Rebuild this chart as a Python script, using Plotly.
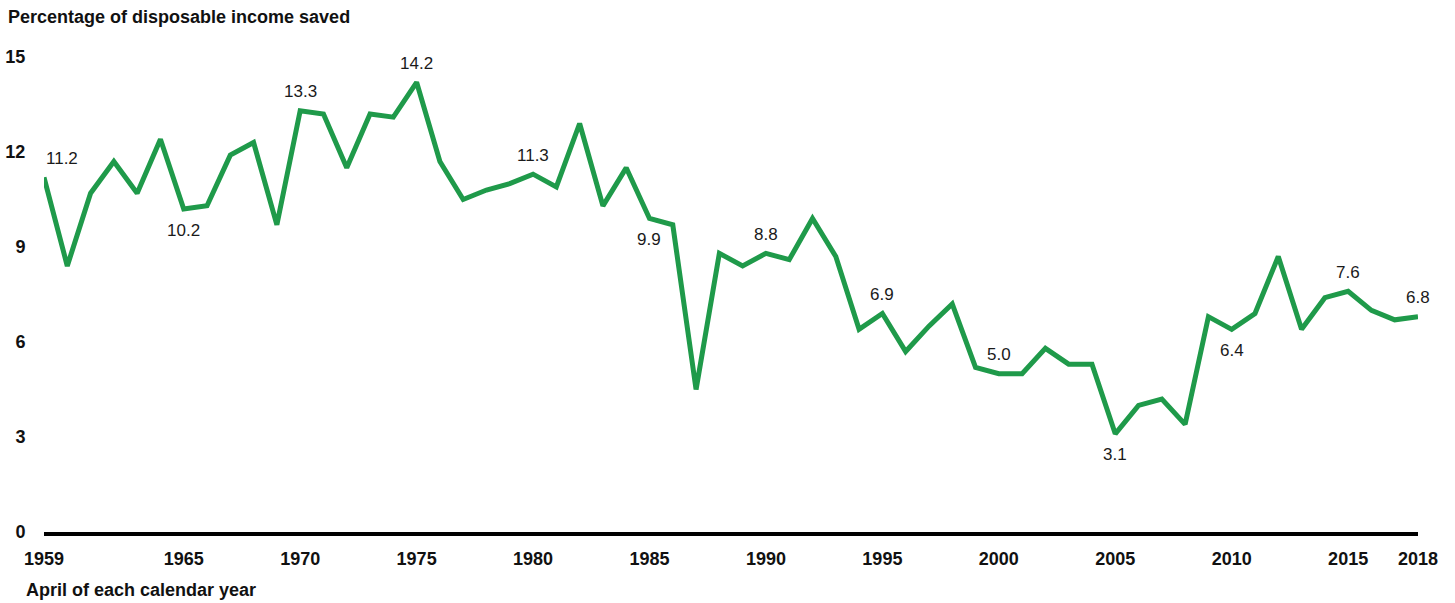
import plotly.graph_objects as go

# Personal saving rate, April of each year
years = list(range(1959, 2019))
saving_rate = [
    11.2, 8.4, 10.7, 11.7, 10.7, 12.4, 10.2, 10.3, 11.9, 12.3,   # 1959-1968
    9.7, 13.3, 13.2, 11.5, 13.2, 13.1, 14.2, 11.7, 10.5, 10.8,   # 1969-1978
    11.0, 11.3, 10.9, 12.9, 10.3, 11.5, 9.9, 9.7, 4.5, 8.8,      # 1979-1988
    8.4, 8.8, 8.6, 9.9, 8.7, 6.4, 6.9, 5.7, 6.5, 7.2,            # 1989-1998
    5.2, 5.0, 5.0, 5.8, 5.3, 5.3, 3.1, 4.0, 4.2, 3.4,            # 1999-2008
    6.8, 6.4, 6.9, 8.7, 6.4, 7.4, 7.6, 7.0, 6.7, 6.8,            # 2009-2018
]

x_tick_years = [1959, 1965, 1970, 1975, 1980, 1985, 1990, 1995, 2000, 2005, 2010, 2015, 2018]
y_tick_values = [0, 3, 6, 9, 12, 15]

# Years whose value is printed next to the line, and where the label sits
labelled_years = [1959, 1965, 1970, 1975, 1980, 1985, 1990, 1995, 2000, 2005, 2010, 2015, 2018]
label_side = ["above", "below", "above", "above", "above", "below", "above",
              "above", "above", "below", "below", "above", "above"]
label_xshift = [18, 0, 0, 0, 0, 0, 0, 0, 0, 0, 0, 0, 0]

FONT = "Arial, 'Liberation Sans', sans-serif"
GREEN = "#1f9a4a"

fig = go.Figure()
fig.add_trace(go.Scatter(
    x=years, y=saving_rate, mode="lines",
    line=dict(color=GREEN, width=5, shape="linear"),
    hoverinfo="x+y", showlegend=False,
))

annotations = []
for yr, side, dx in zip(labelled_years, label_side, label_xshift):
    val = saving_rate[years.index(yr)]
    annotations.append(dict(
        x=yr, y=val, xref="x", yref="y", text=f"{val:.1f}",
        showarrow=False, xshift=dx, yshift=19 if side == "above" else -21,
        font=dict(family=FONT, size=17, color="#1a1a1a"),
    ))

# Axis titles placed at the top-left and bottom-left corners
annotations.append(dict(
    text="<b>Percentage of disposable income saved</b>", xref="paper", yref="paper",
    x=-0.0277, y=1.084, xanchor="left", yanchor="middle", showarrow=False,
    font=dict(family=FONT, size=18, color="#111111"),
))
annotations.append(dict(
    text="<b>April of each calendar year</b>", xref="paper", yref="paper",
    x=-0.0146, y=-0.122, xanchor="left", yanchor="middle", showarrow=False,
    font=dict(family=FONT, size=18, color="#111111"),
))

fig.update_layout(
    width=1455, height=603,
    margin=dict(l=44, r=37, t=57, b=71, autoexpand=False),
    paper_bgcolor="white", plot_bgcolor="white",
    annotations=annotations,
    xaxis=dict(
        range=[1959, 2018], tickmode="array", tickvals=x_tick_years,
        ticktext=[f"<b>{y}</b>" for y in x_tick_years],
        showgrid=False, zeroline=False, automargin=False,
        showline=True, linecolor="black", linewidth=4,
        ticks="outside", ticklen=7, tickcolor="rgba(0,0,0,0)",
        tickfont=dict(family=FONT, size=18, color="#111111"),
    ),
    yaxis=dict(
        range=[0, 15], tickmode="array", tickvals=y_tick_values,
        ticktext=[f"<b>{v}</b>" for v in y_tick_values],
        showgrid=False, zeroline=False, showline=False, automargin=False,
        ticks="outside", ticklen=14, tickcolor="rgba(0,0,0,0)",
        tickfont=dict(family=FONT, size=18, color="#111111"),
    ),
)

fig.write_html("out.html")
